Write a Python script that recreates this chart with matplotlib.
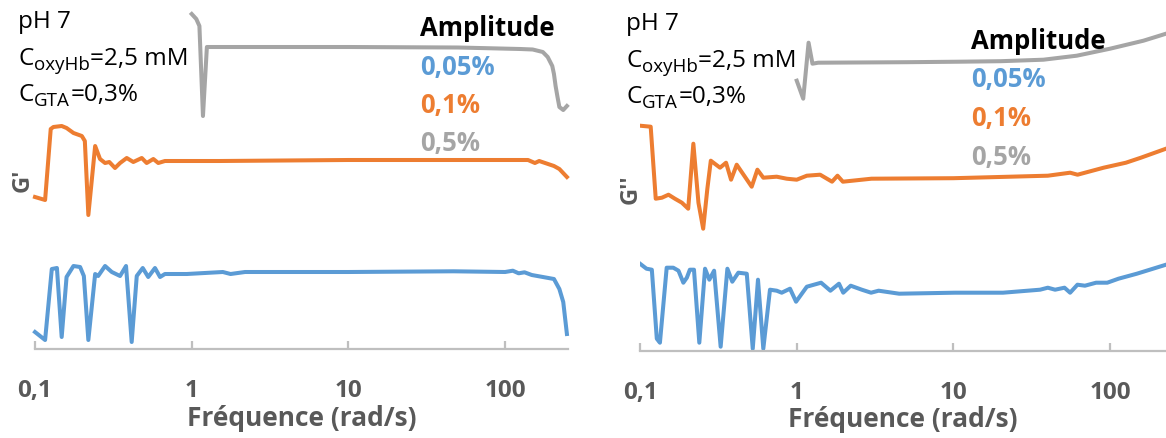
"""
amplitude comparison, G' and G'' vs frequency (pH 7, oxyHb 2.5 mM, GTA 0.3%)
"""
import numpy as np
import matplotlib
matplotlib.use('Agg')
import matplotlib.pyplot as plt
from matplotlib.ticker import FixedLocator, FixedFormatter, NullLocator

plt.rcParams['font.family'] = ['Open Sans', 'DejaVu Sans']

''' ==== data (read off the figure, curves offset, arbitrary units) ==== '''
# G' , amplitude 0.5 %
f_gp_05 = [1.00, 1.07, 1.12, 1.18, 1.25, 2.0, 10, 50, 125, 150, 174, 187, 200, 205, 210, 216,
           222, 235, 248]
gp_05 = [335, 330, 323, 233, 302, 302, 302, 301.5, 300, 299.5, 297, 292, 283, 275, 263, 252,
         242, 239, 243]
# G' , amplitude 0.1 %
f_gp_01 = [0.100, 0.116, 0.126, 0.131, 0.148, 0.159, 0.176, 0.199, 0.208, 0.219, 0.242, 0.260,
           0.280, 0.298, 0.324, 0.349, 0.385, 0.424, 0.480, 0.516, 0.569, 0.612, 0.675, 1.5,
           10, 50, 140, 155, 165, 205, 222, 248]
gp_01 = [152, 149, 220, 222, 223, 221, 216, 213, 208, 134, 203, 190,
         186, 187, 181, 186, 191, 187, 191, 186, 190, 186, 188, 188,
         189, 189, 189, 186, 188, 183, 180, 172]
# G' , amplitude 0.05 %
f_gp_005 = [0.100, 0.116, 0.128, 0.138, 0.148, 0.159, 0.176, 0.194, 0.205, 0.219, 0.242, 0.253,
            0.280, 0.309, 0.349, 0.381, 0.414, 0.446, 0.487, 0.528, 0.583, 0.628, 0.675, 0.93,
            1.58, 1.77, 2.19, 10, 46.9, 100, 112, 122, 133, 148, 205, 222, 235, 248]
gp_005 = [17, 9, 80, 81, 12, 72, 83, 82, 73, 9, 75, 73,
          83, 77, 73, 83, 7, 73, 81, 72, 81, 72, 75, 75,
          77, 75, 77, 77, 77.7, 77, 78.3, 75.7, 76.7, 74, 70, 60, 47, 15]

# G'' , amplitude 0.5 %
f_gpp_05 = [1.00, 1.10, 1.19, 1.26, 1.37, 5, 11.0, 20, 37.5, 61.2, 99.8, 163, 227]
gpp_05 = [270, 252, 308, 287, 288, 288.5, 289, 289.5, 291, 295, 302, 310, 317]
# G'' , amplitude 0.1 %
f_gpp_01 = [0.100, 0.117, 0.126, 0.138, 0.152, 0.167, 0.185, 0.203, 0.219, 0.236, 0.253, 0.269,
            0.283, 0.324, 0.354, 0.381, 0.414, 0.516, 0.561, 0.612, 0.745, 0.863, 1.0, 1.16,
            1.41, 1.68, 1.82, 1.97, 3, 10, 40, 55.5, 61.9, 90.8, 126, 157, 227]
gpp_01 = [225, 224, 152, 153, 156, 152, 148, 142, 207, 148, 122, 162,
          190, 183, 188, 171, 186, 164, 181, 173, 174, 172, 171, 175,
          176, 169, 175, 169, 172, 172.5, 175, 178, 176, 183, 188, 193, 202]
# G'' , amplitude 0.05 %
f_gpp_005 = [0.100, 0.110, 0.119, 0.128, 0.134, 0.148, 0.163, 0.176, 0.189, 0.199, 0.208, 0.221,
             0.239, 0.260, 0.277, 0.297, 0.327, 0.361, 0.388, 0.424, 0.480, 0.524, 0.566, 0.612,
             0.675, 0.745, 0.802, 0.906, 0.990, 1.16, 1.43, 1.64, 1.86, 1.98, 2.21, 2.60,
             2.98, 3.33, 4.50, 10.2, 20.7, 35.7, 40, 44.5, 51.1, 55.5, 61.8, 69,
             81.3, 95.8, 113, 148, 227]
gpp_005 = [87, 82, 81, 12, 8, 83, 83, 80, 68, 73, 81, 81,
           8, 82, 71, 80, 4, 82, 69, 78, 77, 2, 71, 2,
           61, 60, 58, 62, 49, 64, 68, 60, 67, 58, 65, 61,
           58, 60, 57, 58, 58, 61, 63, 61, 63, 58, 66, 65,
           68, 68, 72, 77, 86]

xticks = [0.1, 1, 10, 100]
xtick_labels = ['0,1', '1', '10', '100']
amp_labels = ['0,05%', '0,1%', '0,5%']
info_lines = [[('pH 7', '')], [('C', 'oxyHb'), ('=2,5 mM', '')], [('C', 'GTA'), ('=0,3%', '')]]

c_blue = '#5B9BD5'
c_orange = '#ED7D31'
c_gray = '#A5A5A5'
c_text = '#595959'

W, H = 1166, 439
fig = plt.figure(figsize=(W/100, H/100), dpi=100)
renderer = fig.canvas.get_renderer()

def px(x, y):
    return x/W, 1 - y/H

def make_ax(x0, x1, y_axis, fmax):
    ax = fig.add_axes([x0/W, (H - y_axis)/H, (x1 - x0)/W, y_axis/H])
    ax.set_xscale('log')
    ax.set_xlim(0.1, fmax)
    ax.set_ylim(0, y_axis)
    for s in ['top', 'left', 'right']:
        ax.spines[s].set_visible(False)
    ax.spines['bottom'].set_color('#BFBFBF')
    ax.spines['bottom'].set_linewidth(1.6)
    ax.xaxis.set_major_locator(FixedLocator(xticks))
    ax.xaxis.set_major_formatter(FixedFormatter(xtick_labels))
    ax.xaxis.set_minor_locator(NullLocator())
    ax.tick_params(axis='x', direction='in', length=6, width=1.6, color='#BFBFBF',
                   pad=21, labelsize=17.5, labelcolor=c_text)
    for t in ax.get_xticklabels():
        t.set_fontweight('bold')
    ax.set_yticks([])
    ax.set_xlabel('Fréquence (rad/s)', fontsize=19, fontweight='bold', color=c_text, labelpad=1)
    ax.patch.set_alpha(0)
    return ax

def write_line(x, y, pieces, size=17.5, sub_size=13.5):
    # text with subscripts, drawn piece by piece (x, y in pixels, baseline)
    for main, sub in pieces:
        t = fig.text(*px(x, y), main, fontsize=size, va='baseline', ha='left')
        x += t.get_window_extent(renderer).width + 0.5
        if sub:
            t = fig.text(*px(x, y + 5), sub, fontsize=sub_size, va='baseline', ha='left')
            x += t.get_window_extent(renderer).width + 0.5

lw = 2.9
ax1 = make_ax(35, 568, 350, 252)
ax1.plot(f_gp_005, gp_005, color=c_blue, lw=lw, solid_joinstyle='round', clip_on=False)
ax1.plot(f_gp_01, gp_01, color=c_orange, lw=lw, solid_joinstyle='round', clip_on=False)
ax1.plot(f_gp_05, gp_05, color=c_gray, lw=lw, solid_joinstyle='round', clip_on=False)

ax2 = make_ax(640, 1166, 351.7, 227)
ax2.plot(f_gpp_005, gpp_005, color=c_blue, lw=lw, solid_joinstyle='round')
ax2.plot(f_gpp_01, gpp_01, color=c_orange, lw=lw, solid_joinstyle='round')
ax2.plot(f_gpp_05, gpp_05, color=c_gray, lw=lw, solid_joinstyle='round')

# annotations
for dx, dy, ylab, ylab_pos, amp_x, amp_y in [(0, 0, "G'", (23, 180), 420, 36),
                                               (608, 2, "G''", (631, 189), 971, 49)]:
    for k, pieces in enumerate(info_lines):
        write_line(18 + dx, [28, 65, 101][k] + dy, pieces)
    fig.text(*px(*ylab_pos), ylab, rotation=90, fontsize=17, fontweight='bold', color=c_text,
             ha='center', va='center')
    fig.text(*px(amp_x, amp_y), 'Amplitude', fontsize=18.5, fontweight='bold', color='black',
             va='baseline', ha='left')
    for i, (lab, col) in enumerate(zip(amp_labels, [c_blue, c_orange, c_gray])):
        fig.text(*px(amp_x, amp_y + 38.5*(i + 1)), lab, fontsize=18.5, fontweight='bold',
                 color=col, va='baseline', ha='left')

plt.savefig('out.png', dpi=100)
plt.close()
